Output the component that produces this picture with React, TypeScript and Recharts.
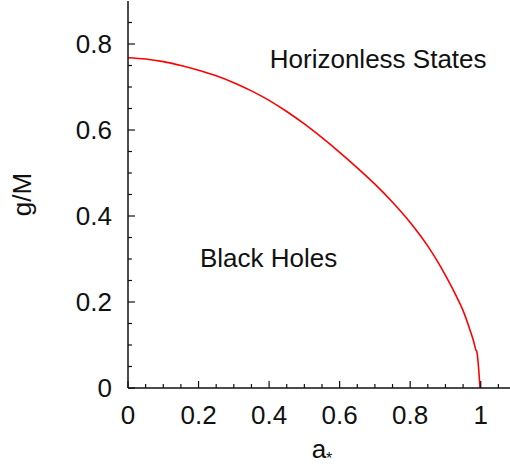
import { ComposedChart, Line, XAxis, YAxis, ReferenceDot } from "recharts";

// spin parameter a* and the critical g/M on the horizon boundary
const spinValues = [
  0, 0.05, 0.1, 0.15, 0.2, 0.25, 0.3, 0.35, 0.4, 0.45, 0.5, 0.55, 0.6, 0.65, 0.7, 0.75, 0.8, 0.85,
  0.88, 0.9, 0.93, 0.95, 0.97, 0.98, 0.986, 0.989, 0.998,
];
const criticalG = [
  0.768, 0.765, 0.759, 0.75, 0.739, 0.726, 0.71, 0.691, 0.669, 0.643, 0.614, 0.582, 0.548, 0.512,
  0.474, 0.432, 0.385, 0.33, 0.291, 0.262, 0.215, 0.18, 0.134, 0.108, 0.089, 0.084, 0,
];

const xMajorTicks = [0, 0.2, 0.4, 0.6, 0.8, 1];
const xMinorTicks = [0.05, 0.1, 0.15, 0.25, 0.3, 0.35, 0.45, 0.5, 0.55, 0.65, 0.7, 0.75, 0.85, 0.9, 0.95, 1.05];
const yMajorTicks = [0, 0.2, 0.4, 0.6, 0.8];
const yMinorTicks = [0.05, 0.1, 0.15, 0.25, 0.3, 0.35, 0.45, 0.5, 0.55, 0.65, 0.7, 0.75, 0.85];

const regionLabels = [
  { text: "Black Holes", a: 0.204, g: 0.281 },
  { text: "Horizonless States", a: 0.402, g: 0.745 },
];

const data = spinValues.map((a, i) => ({ a, g: criticalG[i] }));
const xTicks = [...xMajorTicks, ...xMinorTicks].sort((p, q) => p - q);
const yTicks = [...yMajorTicks, ...yMinorTicks].sort((p, q) => p - q);

const FONT = "'Liberation Sans', Arial, Helvetica, sans-serif";
const INK = "#111";
const SIZE = 26;
const MAJOR = 7;
const MINOR = 4;

const BottomTick = (props: any) => {
  const { x, y, payload } = props;
  const major = xMajorTicks.includes(payload.value);
  return (
    <g>
      <line x1={x} x2={x} y1={y} y2={y - (major ? MAJOR : MINOR)} stroke={INK} strokeWidth={1.2} />
      {major && (
        <text x={x} y={y + 36} textAnchor="middle" fontSize={SIZE} fontFamily={FONT} fill={INK}>
          {String(payload.value)}
        </text>
      )}
    </g>
  );
};

const TopTick = (props: any) => {
  const { x, y, payload } = props;
  const major = xMajorTicks.includes(payload.value);
  return <line x1={x} x2={x} y1={y} y2={y + (major ? MAJOR : MINOR)} stroke={INK} strokeWidth={1.2} />;
};

const LeftTick = (props: any) => {
  const { x, y, payload } = props;
  const major = yMajorTicks.includes(payload.value);
  return (
    <g>
      <line x1={x} x2={x + (major ? MAJOR : MINOR)} y1={y} y2={y} stroke={INK} strokeWidth={1.2} />
      {major && (
        <text x={x - 16} y={y + 9} textAnchor="end" fontSize={SIZE} fontFamily={FONT} fill={INK}>
          {String(payload.value)}
        </text>
      )}
    </g>
  );
};

const RightTick = (props: any) => {
  const { x, y, payload } = props;
  const major = yMajorTicks.includes(payload.value);
  return <line x1={x} x2={x - (major ? MAJOR : MINOR)} y1={y} y2={y} stroke={INK} strokeWidth={1.2} />;
};

export default function App() {
  return (
    <div
      style={{
        position: "fixed",
        left: 0,
        top: 0,
        width: 510,
        height: 468,
        overflow: "hidden",
        background: "#fff",
      }}
    >
      <ComposedChart width={530} height={468} data={data} margin={{ top: 1, right: 14, bottom: 40, left: 68 }}>
        <XAxis
          xAxisId="bottom"
          dataKey="a"
          type="number"
          domain={[0, 1.1]}
          ticks={xTicks}
          interval={0}
          allowDataOverflow
          height={40}
          tickSize={0}
          tickMargin={0}
          tickLine={false}
          axisLine={{ stroke: INK, strokeWidth: 1.5 }}
          tick={BottomTick}
          label={({ viewBox }: any) => (
            <text
              x={viewBox.x + viewBox.width / 2}
              y={viewBox.y + 70}
              textAnchor="middle"
              fontSize={SIZE}
              fontFamily={FONT}
              fill={INK}
            >
              a
              <tspan fontSize={16} dy={6}>
                *
              </tspan>
            </text>
          )}
        />
        <XAxis
          xAxisId="top"
          orientation="top"
          dataKey="a"
          type="number"
          domain={[0, 1.1]}
          ticks={xTicks}
          interval={0}
          allowDataOverflow
          height={0}
          tickSize={0}
          tickMargin={0}
          tickLine={false}
          axisLine={{ stroke: INK, strokeWidth: 1.5 }}
          tick={TopTick}
        />
        <YAxis
          yAxisId="left"
          type="number"
          domain={[0, 0.9]}
          ticks={yTicks}
          interval={0}
          allowDataOverflow
          width={60}
          tickSize={0}
          tickMargin={0}
          tickLine={false}
          axisLine={{ stroke: INK, strokeWidth: 1.5 }}
          tick={LeftTick}
          label={({ viewBox }: any) => {
            const cx = viewBox.x - 37;
            const cy = viewBox.y + viewBox.height / 2;
            return (
              <text
                x={cx}
                y={cy}
                transform={`rotate(-90, ${cx}, ${cy})`}
                textAnchor="middle"
                fontSize={SIZE}
                fontFamily={FONT}
                fill={INK}
              >
                g/M
              </text>
            );
          }}
        />
        <YAxis
          yAxisId="right"
          orientation="right"
          type="number"
          domain={[0, 0.9]}
          ticks={yTicks}
          interval={0}
          allowDataOverflow
          width={0}
          tickSize={0}
          tickMargin={0}
          tickLine={false}
          axisLine={{ stroke: INK, strokeWidth: 1.5 }}
          tick={RightTick}
        />
        <Line
          xAxisId="bottom"
          yAxisId="left"
          type="monotone"
          dataKey="g"
          stroke="#ff0000"
          strokeWidth={1.6}
          dot={false}
          isAnimationActive={false}
        />
        {regionLabels.map((r) => (
          <ReferenceDot
            key={r.text}
            xAxisId="bottom"
            yAxisId="left"
            x={r.a}
            y={r.g}
            r={0}
            fill="none"
            stroke="none"
            label={({ viewBox }: any) => (
              <text x={viewBox.x} y={viewBox.y} fontSize={SIZE} fontFamily={FONT} fill={INK}>
                {r.text}
              </text>
            )}
          />
        ))}
      </ComposedChart>
    </div>
  );
}
